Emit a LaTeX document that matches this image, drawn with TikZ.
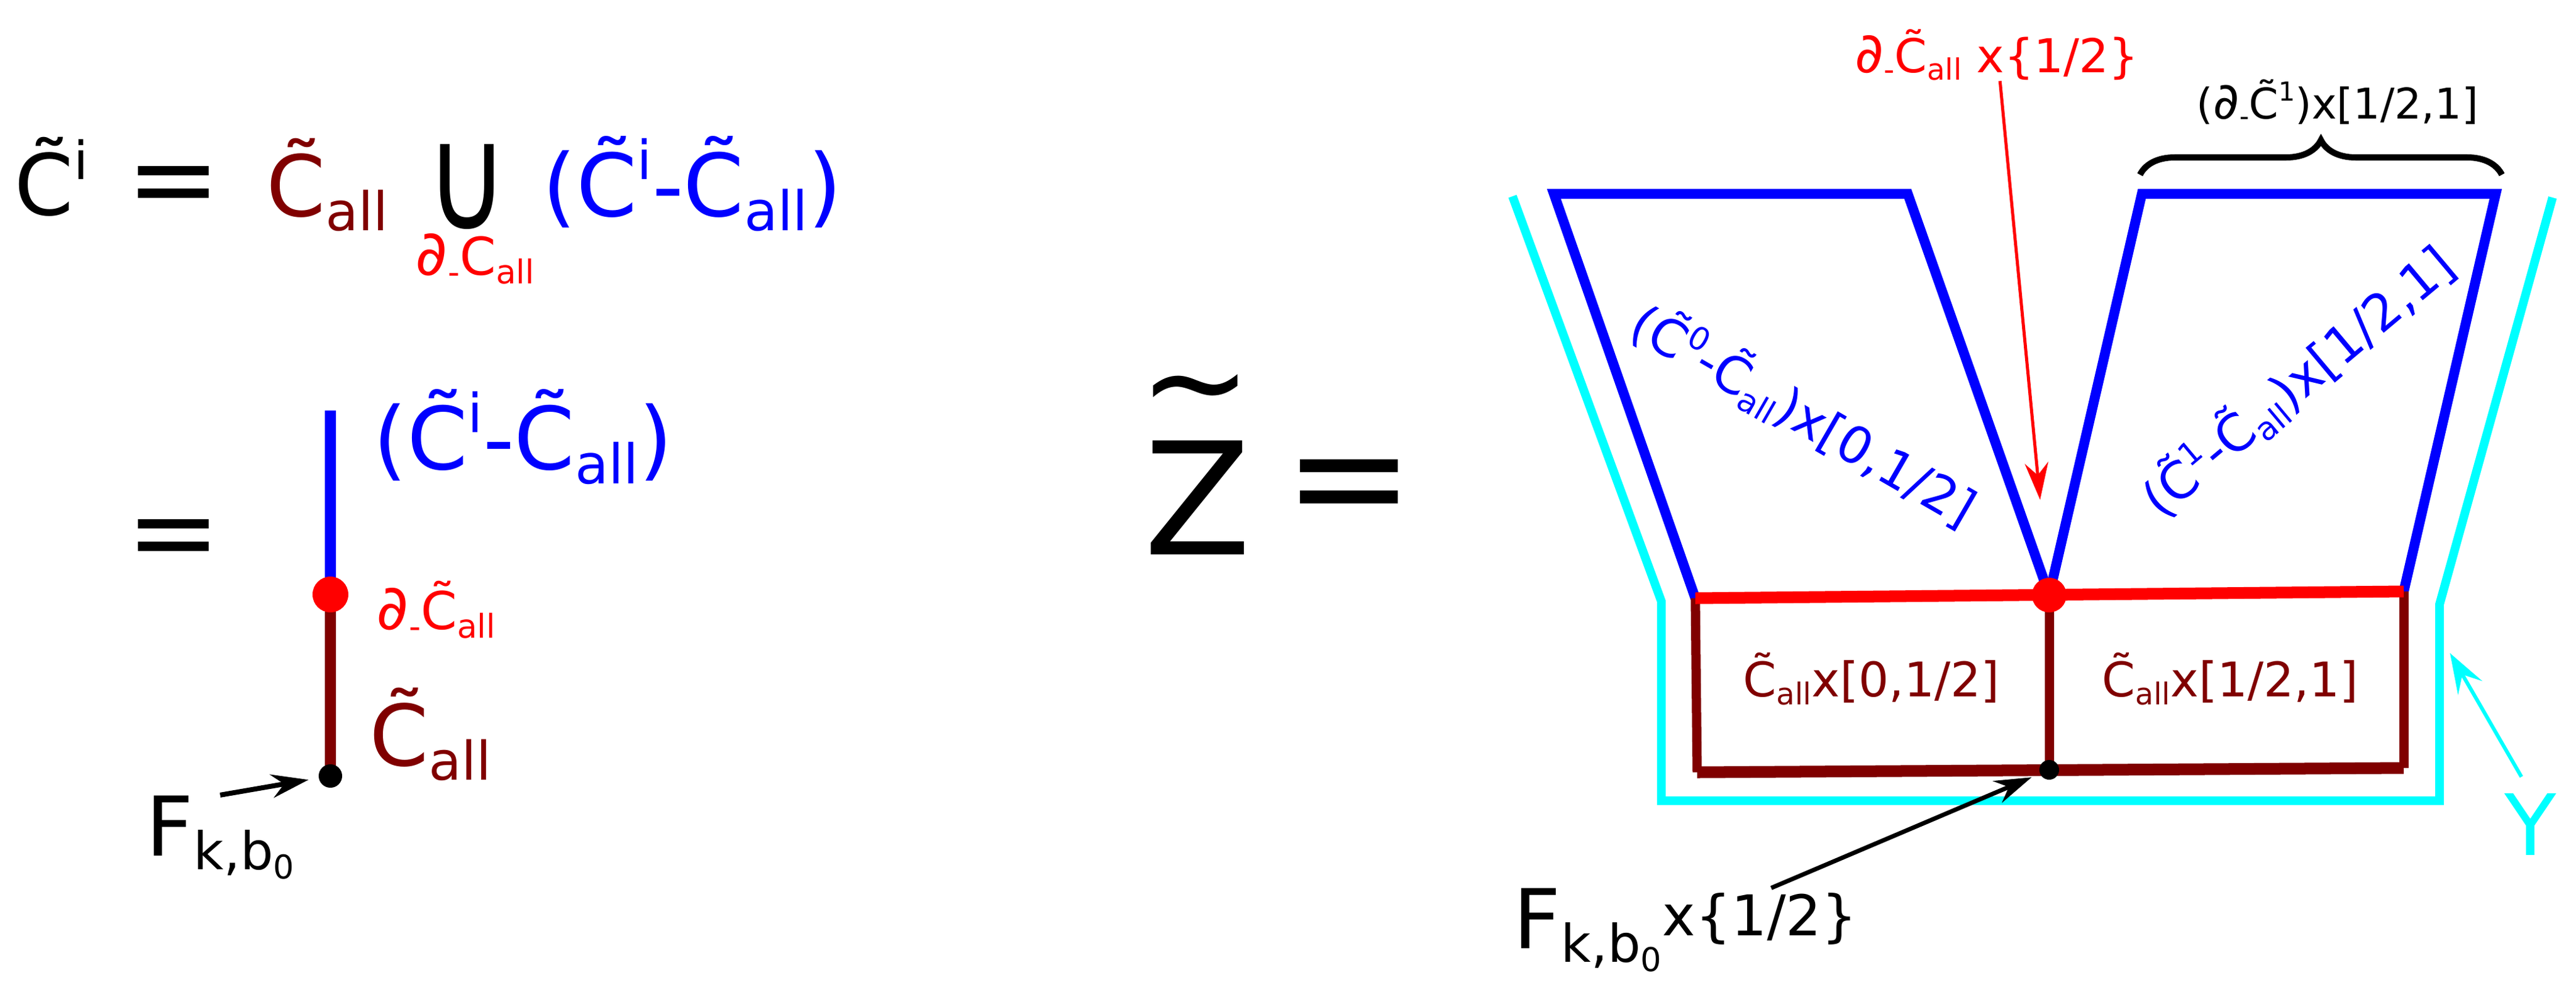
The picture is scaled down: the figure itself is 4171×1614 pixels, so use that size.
\documentclass[tikz,border=0pt]{standalone}
\usepackage{fontspec}
\setmainfont{DejaVu Sans}
\usepackage{graphicx}
\usetikzlibrary{arrows.meta,decorations.pathreplacing}
\definecolor{callred}{RGB}{255,0,0}
\definecolor{callbrown}{RGB}{128,0,0}
\definecolor{cblue}{RGB}{0,0,255}
\definecolor{ycyan}{RGB}{0,255,255}
\newcommand{\setsz}[1]{\fontsize{#1}{#1}\selectfont}
\newcommand{\up}[1]{\raisebox{0.42em}{\scalebox{0.62}{#1}}}
\newcommand{\dn}[1]{\raisebox{-0.17em}{\scalebox{0.63}{#1}}}
\newcommand{\Ct}{\~C}
\newcommand{\pd}{\scalebox{1.2}{∂}}
\tikzset{
  bluepen/.style={cblue, line width=0.16cm, line join=miter},
  brownpen/.style={callbrown, line width=0.15cm},
  redpen/.style={callred, line width=0.19cm},
  cyanpen/.style={ycyan, line width=0.14cm},
  ptr/.style={-{Stealth[length=0.6cm, width=0.38cm, inset=0.2cm]}}
}
\begin{document}
\begin{tikzpicture}[x=0.01cm,y=-0.01cm]
		\tikzstyle{every node}+=[inner sep=0pt]
		\useasboundingbox (0,0) rectangle (4171,1614);
		% first line
		\node [anchor=base west] (ci) at (23,348) {\setsz{39}\Ct\up{i}};
		\node (eqa) at (281,311) {\setsz{52}=};
		\node [anchor=base west, callbrown] (call) at (431,350) {\setsz{39}\Ct\dn{all}};
		\node (cup) at (756,303) {\setsz{52}\scalebox{1}[1.3]{∪}};
		\node [anchor=base west, callred] (bd) at (672,445) {\setsz{24}\pd\dn{-}C\dn{all}};
		\node [anchor=base west, cblue] (rest) at (878,350) {\setsz{40}(\Ct\up{i}-\Ct\dn{all})};
		% second line
		\coordinate (ltop) at (535,665);
		\coordinate (lmid) at (535,963);
		\coordinate (lfoot) at (535,1257);
		\node (eqb) at (281,883) {\setsz{52}=};
		\draw [cblue, line width=0.18cm] (ltop) -- (lmid);
		\draw [callbrown, line width=0.18cm] (lmid) -- (lfoot);
		\fill [callred] (lmid) circle (29);
		\fill [black] (lfoot) circle (19);
		\node [anchor=base west, cblue] (restb) at (604,760) {\setsz{40}(\Ct\up{i}-\Ct\dn{all})};
		\node [anchor=base west, callred] (bdb) at (609,1019) {\setsz{24}\pd\dn{-}\Ct\dn{all}};
		\node [anchor=base west, callbrown] (callb) at (598,1240) {\setsz{39}\Ct\dn{all}};
		\node [anchor=base west] (fl) at (236,1386) {\setsz{38}F\dn{k,b\dn{0}}};
		\draw [ptr, line width=0.08cm, shorten >=0.36cm] (fl.north) -- (lfoot);
		% Z
		\node [anchor=base west] (zt) at (1852,898) {\setsz{72}Z};
		\node (ztil) at (1936,650) {\setsz{62}\textasciitilde};
		\node (eqz) at (2185,802) {\setsz{72}=};
		% the two slabs
		\coordinate (lq1) at (2516,314);
		\coordinate (lq2) at (3089,314);
		\coordinate (mid) at (3318,964);
		\coordinate (lq4) at (2745,969);
		\coordinate (rq1) at (3468,314);
		\coordinate (rq2) at (4041,314);
		\coordinate (rq3) at (3892,958);
		\coordinate (lb) at (2748,1251);
		\coordinate (rb) at (3892,1244);
		\coordinate (foot) at (3318,1247);
		\draw [cyanpen] (2449,318) -- (2690,974) -- (2690,1297) -- (3950,1297) -- (3950,979) -- (4133,320);
		\draw [bluepen] (lq4) -- (lq1) -- (lq2) -- (mid);
		\draw [bluepen] (mid) -- (rq1) -- (rq2) -- (rq3);
		\draw [brownpen] (lq4) -- (lb);
		\draw [brownpen] (rq3) -- (rb);
		\draw [brownpen] (mid) -- (foot);
		\draw [callbrown, line width=0.19cm] (lb) -- (rb);
		\draw [redpen] (lq4) -- (rq3);
		\fill [callred] (mid) circle (28);
		\fill [black] (foot) circle (16);
		\node [callbrown] (cl) at (3030,1100) {\setsz{22}\Ct\dn{all}x[0,1/2]};
		\node [callbrown] (cr) at (3611,1100) {\setsz{22}\Ct\dn{all}x[1/2,1]};
		\node [cblue, rotate=-30] (sl) at (2921,672) {\setsz{23.5}(\Ct\up{0}-\Ct\dn{all})x[0,1/2]};
		\node [cblue, rotate=40] (sr) at (3720,617) {\setsz{23.5}(\Ct\up{1}-\Ct\dn{all})x[1/2,1]};
		% brace and labels
		\draw [decorate, decoration={brace, amplitude=0.56cm}, line width=0.1cm] (3465,283) -- (4051,283);
		\node [anchor=base west] (bl) at (3556,192) {\setsz{19.5}(\pd\dn{-}\Ct\up{1})x[1/2,1]};
		\node [anchor=base west, callred] (rl) at (3003,117) {\setsz{21.5}\pd\dn{-}\Ct\dn{all} x\{1/2\}};
		\draw [ptr, callred, line width=0.05cm, shorten >=1.55cm] ([xshift=0.05cm]rl.south) -- (mid);
		\node [anchor=base west] (fr) at (2450,1536) {\setsz{38}F\dn{k,b\dn{0}}};
		\node [anchor=base west] (fx) at (fr.base east) {\setsz{38}\raisebox{0.15em}{\scalebox{0.68}{x\{1/2\}}}};
		\draw [ptr, line width=0.07cm, shorten <=0.2cm, shorten >=0.31cm] (fx.north) -- (foot);
		\node [anchor=base west, ycyan] (yl) at (4055,1385) {\setsz{39}Y};
		\coordinate (yhit) at (3967,1058);
		\draw [ycyan, line width=0.06cm, -{Stealth[length=0.65cm, width=0.45cm, inset=0.25cm]}, shorten <=0.3cm] (yl.north) -- (yhit);
	\end{tikzpicture}
\end{document}
